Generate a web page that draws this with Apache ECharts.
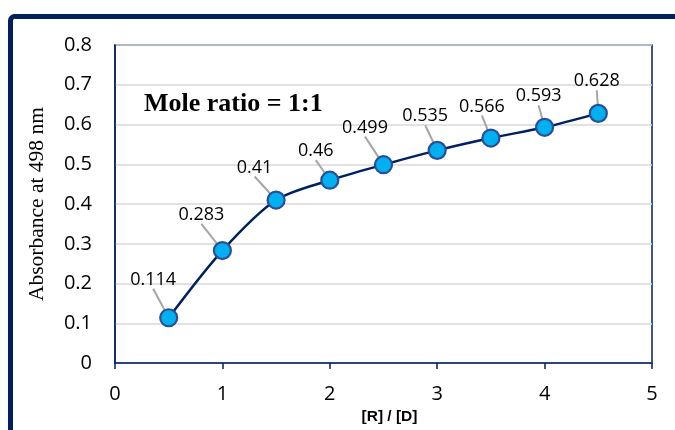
<!DOCTYPE html>
<html><head><meta charset="utf-8">
<script src="https://cdn.jsdelivr.net/npm/echarts@6/dist/echarts.min.js"></script>
<style>html,body{margin:0;padding:0;background:#fff}#c{width:675px;height:430px}</style>
</head><body><div id="c"></div>
<script>
const ratios = [0.5, 1, 1.5, 2, 2.5, 3, 3.5, 4, 4.5];
const absorbance = [0.114, 0.283, 0.41, 0.46, 0.499, 0.535, 0.566, 0.593, 0.628];
const labelText = ['0.114','0.283','0.41','0.46','0.499','0.535','0.566','0.593','0.628'];
const xTicks = [0,1,2,3,4,5];
const yTicks = [0,0.1,0.2,0.3,0.4,0.5,0.6,0.7,0.8];
const labelDx = [-15.5, -21, -21.5, -14, -18.5, -12, -9, -6, -1.5];
const labelDy = [-14.5, -12, -9, -5.5, -13.5, -10.5, -8, -7.5, -8.5];

const navy = '#002060';
const chart = echarts.init(document.getElementById('c'));
chart.setOption({
  backgroundColor: '#fff',
  animation: false,
  graphic: [
    {type:'rect', shape:{x:10.5, y:16.5, width:720, height:500, r:4}, style:{fill:'none', stroke:navy, lineWidth:5}, z:-1}
  ],
  title: {text:'Mole ratio = 1:1', left:139, top:86, textStyle:{fontFamily:'Liberation Serif', fontWeight:'bold', fontSize:26, color:'#000'}},
  grid: {left:115, width:537, top:45, height:325, show:true, borderColor:navy, borderWidth:1.5, backgroundColor:'#fff'},
  xAxis: {
    type:'value', min:0, max:5, interval:1,
    name:'[R] / [D]', nameLocation:'middle', nameGap:42,
    nameTextStyle:{fontFamily:'Liberation Sans', fontWeight:'bold', fontSize:15.5, color:'#000', padding:[0,0,0,12]},
    axisLine:{show:true, lineStyle:{color:navy, width:1.5}},
    axisTick:{show:true, length:6, lineStyle:{color:navy, width:1.5}},
    axisLabel:{fontFamily:'Open Sans', fontSize:20, color:'#000', margin:21, formatter: v => xTicks.includes(v) ? String(v) : ''},
    splitLine:{show:false}
  },
  yAxis: {
    type:'value', min:0, max:0.8, interval:0.1,
    name:'Absorbance at 498 nm', nameLocation:'middle', nameGap:67,
    nameTextStyle:{fontFamily:'Liberation Serif', fontSize:21.5, color:'#000'},
    axisLine:{show:true, lineStyle:{color:navy, width:1.5}},
    axisTick:{show:false},
    axisLabel:{fontFamily:'Open Sans', fontSize:20, color:'#000', margin:23, formatter: v => { const t = yTicks.find(y => Math.abs(y - v) < 1e-9); return t === undefined ? '' : (t === 0 ? '0' : t.toFixed(1)); }},
    splitLine:{show:true, lineStyle:{color:'#d9d9d9', width:1.5}}
  },
  series: [{
    type:'line', smooth:0.3,
    data: ratios.map((x,i) => [x, absorbance[i]]),
    lineStyle:{color:navy, width:2.5},
    symbol:'circle', symbolSize:17,
    itemStyle:{color:'#00b0f0', borderColor:'#2a4f95', borderWidth:2.2},
    label:{show:true, position:'top', distance:5, fontFamily:'Open Sans', fontSize:18, color:'#000',
      formatter: p => labelText[p.dataIndex]},
    labelLine:{show:true, lineStyle:{color:'#a6a6a6', width:2}},
    labelLayout: p => ({dx: labelDx[p.dataIndex], dy: labelDy[p.dataIndex]}),
    z:3
  }]
});
</script></body></html>
